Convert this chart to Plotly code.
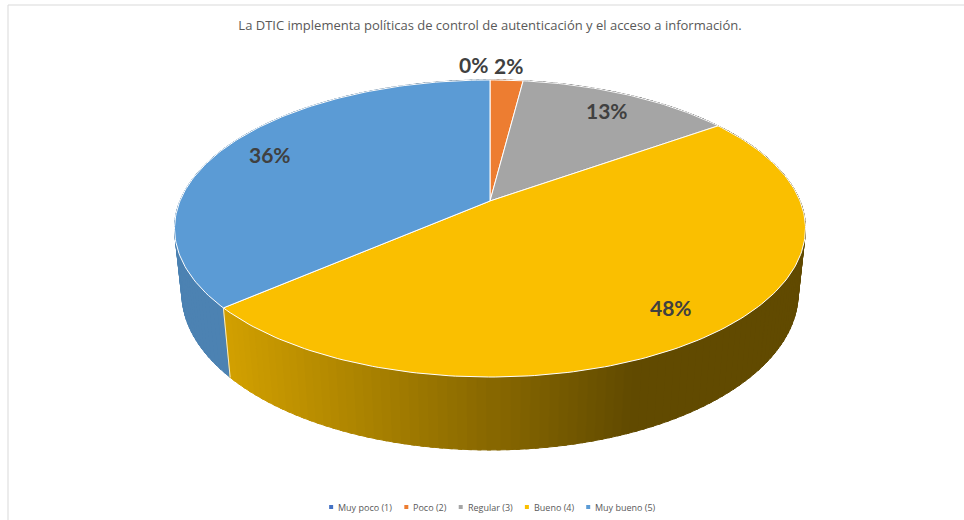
import math
import plotly.graph_objects as go

# Survey results
categories = ["Muy poco (1)", "Poco (2)", "Regular (3)", "Bueno (4)", "Muy bueno (5)"]
values = [0, 2, 13, 48, 36]
colors = ["#4472C4", "#ED7D31", "#A5A5A5", "#FABF00", "#5B9BD5"]
title_text = "La DTIC implementa políticas de control de autenticación y el acceso a información."

# Perspective view of a 3D pie (pixel-space canvas)
W, H = 964, 520
CX, CY = 490.0, 201.0
FOCAL = 1485.0
DIST = 4.79
TILT = math.radians(27.56)
THICK = 0.237
SIN_T, COS_T = math.sin(TILT), math.cos(TILT)


def project(theta_deg, r=1.0, w=0.0):
    t = math.radians(theta_deg)
    u = r * math.sin(t)
    v = -r * math.cos(t)
    d = DIST - (v * COS_T + w * SIN_T)
    x = CX + FOCAL * u / d
    y = CY - FOCAL * (w * COS_T - v * SIN_T) / d
    return x, y, d


def hex_rgb(h):
    h = h.lstrip("#")
    return tuple(int(h[i:i + 2], 16) for i in (0, 2, 4))


def shade(hex_color, x):
    # side lighting: brighter on the left, darker toward the right
    t = min(max((x - 230.0) / 400.0, 0.0), 1.0)
    k = 0.84 - t * (0.84 - 0.39)
    r, g, b = hex_rgb(hex_color)
    return f"rgb({int(r * k)},{int(g * k)},{int(b * k)})"


total = sum(values)
bounds = [0.0]
for v in values:
    bounds.append(bounds[-1] + 360.0 * v / total)

fig = go.Figure()

# side walls, split into thin overlapping quads and painted back to front
quads = []
for i, v in enumerate(values):
    a0, a1 = bounds[i], bounds[i + 1]
    if a1 - a0 <= 0:
        continue
    n = max(1, int(math.ceil((a1 - a0) / 1.5)))
    for k in range(n):
        t0 = a0 + (a1 - a0) * k / n
        t1 = min(a0 + (a1 - a0) * (k + 1) / n + 0.6, a1)
        p = [project(t0), project(t1), project(t1, 1.0, -THICK), project(t0, 1.0, -THICK)]
        depth = project((t0 + t1) / 2)[2]
        xm = sum(q[0] for q in p) / 4
        quads.append((depth, p, shade(colors[i], xm)))

quads.sort(key=lambda q: -q[0])
for depth, p, col in quads:
    fig.add_trace(go.Scatter(
        x=[q[0] for q in p] + [p[0][0]], y=[q[1] for q in p] + [p[0][1]],
        mode="lines", fill="toself", fillcolor=col,
        line=dict(color=col, width=1), hoverinfo="skip", showlegend=False))

# vertical edges where slices meet on the visible front of the wall
for b in bounds[1:-1]:
    if 90 < (b % 360) < 270:
        x0, y0, _ = project(b)
        x1, y1, _ = project(b, 1.0, -THICK)
        fig.add_trace(go.Scatter(x=[x0, x1], y=[y0, y1], mode="lines",
                                 line=dict(color="rgba(255,255,255,0.8)", width=1),
                                 hoverinfo="skip", showlegend=False))

# top faces
for i, v in enumerate(values):
    a0, a1 = bounds[i], bounds[i + 1]
    if a1 - a0 <= 0:
        continue
    n = max(2, int(math.ceil((a1 - a0) / 1.0)))
    xs, ys = [CX], [CY]
    for k in range(n + 1):
        x, y, _ = project(a0 + (a1 - a0) * k / n)
        xs.append(x)
        ys.append(y)
    xs.append(CX)
    ys.append(CY)
    fig.add_trace(go.Scatter(x=xs, y=ys, mode="lines", fill="toself",
                             fillcolor=colors[i], line=dict(color="white", width=1),
                             hoverinfo="skip", showlegend=False))

# percentage labels
for i, v in enumerate(values):
    pct = round(100.0 * v / total)
    mid = (bounds[i] + bounds[i + 1]) / 2
    small = pct < 5
    r = 1.15 if small else 0.83
    x, y, _ = project(mid, r)
    anchor = "center"
    if small and v == 0:
        anchor = "right"
    fig.add_annotation(x=x, y=y, text=f"{pct}%", showarrow=False, xanchor=anchor,
                       yanchor="middle",
                       font=dict(family="Lato", size=21, color="#404040", weight="bold"))

# compact legend row along the bottom
LEG_FONT = 9
LEG_Y = 507
EM = {"M": .92, "u": .62, "y": .5, " ": .26, "p": .61, "o": .6, "c": .48, "(": .3, ")": .3,
      "P": .6, "R": .63, "e": .56, "g": .55, "l": .26, "a": .56, "r": .41, "B": .65,
      "n": .62, "b": .61}


def text_width(s):
    return sum(EM.get(ch, .57) for ch in s) * LEG_FONT


MARK_GAP, ITEM_GAP = 6, 15
widths = [MARK_GAP + text_width(c) for c in categories]
row = sum(widths) + ITEM_GAP * (len(categories) - 1)
x = 493 - row / 2
mark_x = []
for c, w in zip(categories, widths):
    mark_x.append(x)
    fig.add_annotation(x=x + MARK_GAP - 1, y=LEG_Y, text=c, showarrow=False, xanchor="left",
                       yanchor="middle",
                       font=dict(family="Open Sans", size=LEG_FONT, color="#595959"))
    x += w + ITEM_GAP
fig.add_trace(go.Scatter(x=mark_x, y=[LEG_Y] * len(categories), mode="markers",
                         marker=dict(symbol="square", size=4, color=colors),
                         hoverinfo="skip", showlegend=False))

fig.update_layout(
    width=W, height=H,
    margin=dict(l=0, r=0, t=0, b=0),
    paper_bgcolor="white", plot_bgcolor="white",
    showlegend=False,
    xaxis=dict(range=[0, W], visible=False, fixedrange=True),
    yaxis=dict(range=[H, 0], visible=False, fixedrange=True),
    title=dict(text=title_text, x=490 / W, xanchor="center", y=1 - 25 / H, yanchor="middle",
               font=dict(family="Open Sans", size=13, color="#595959")),
    shapes=[dict(type="rect", xref="x", yref="y", x0=8, y0=5, x1=W + 10, y1=H + 10,
                 line=dict(color="#D9D9D9", width=1), fillcolor="rgba(0,0,0,0)", layer="below")],
)

fig.write_html("out.html")
